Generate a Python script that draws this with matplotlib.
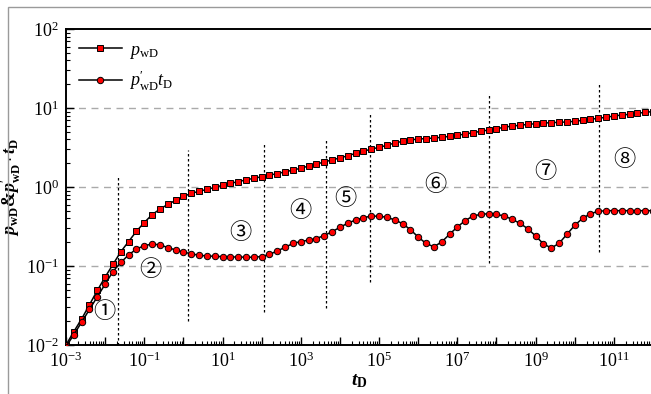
import numpy as np
import matplotlib
matplotlib.use("Agg")
import matplotlib.pyplot as plt
from matplotlib.ticker import LogLocator, FuncFormatter, NullFormatter
from matplotlib.patches import Rectangle

plt.rcParams['font.family'] = ['Liberation Serif', 'DejaVu Serif']
plt.rcParams['mathtext.fontset'] = 'custom'
plt.rcParams['mathtext.rm'] = 'Liberation Serif'
plt.rcParams['mathtext.it'] = 'Liberation Serif:italic'
plt.rcParams['mathtext.bf'] = 'Liberation Serif:bold'
plt.rcParams['mathtext.bfit'] = 'Liberation Serif:italic:bold'

# --- type curve data: sample times (log10 tD) and log10 of the responses ---
log_td = np.linspace(-3, 12, 76)

log_pwd = [-2.00, -1.83, -1.67, -1.49, -1.31, -1.14, -0.98, -0.82, -0.69, -0.56,
           -0.45, -0.35, -0.28, -0.22, -0.17, -0.12, -0.08, -0.055, -0.03, -0.005,
           0.022, 0.047, 0.067, 0.090, 0.110, 0.130, 0.150, 0.170, 0.192, 0.214,
           0.238, 0.265, 0.291, 0.316, 0.344, 0.367, 0.396, 0.425, 0.452, 0.480,
           0.502, 0.528, 0.557, 0.578, 0.595, 0.608, 0.612, 0.620, 0.629, 0.641,
           0.654, 0.671, 0.687, 0.705, 0.722, 0.738, 0.756, 0.772, 0.781, 0.793,
           0.801, 0.810, 0.814, 0.819, 0.823, 0.832, 0.844, 0.857, 0.870, 0.882,
           0.899, 0.911, 0.920, 0.933, 0.946, 0.955]

log_dpwd = [-2.02, -1.87, -1.71, -1.55, -1.39, -1.23, -1.07, -0.955, -0.86, -0.785,
            -0.743, -0.722, -0.733, -0.766, -0.797, -0.823, -0.846, -0.864, -0.873, -0.877,
            -0.882, -0.886, -0.886, -0.889, -0.889, -0.880, -0.852, -0.810, -0.762, -0.715,
            -0.690, -0.673, -0.652, -0.614, -0.566, -0.510, -0.458, -0.418, -0.388, -0.369,
            -0.369, -0.384, -0.416, -0.464, -0.540, -0.633, -0.715, -0.756, -0.696, -0.599,
            -0.506, -0.426, -0.367, -0.346, -0.338, -0.346, -0.367, -0.409, -0.460, -0.528,
            -0.620, -0.720, -0.772, -0.713, -0.599, -0.485, -0.397, -0.338, -0.308, -0.300,
            -0.300, -0.300, -0.300, -0.300, -0.300, -0.300]

td = 10 ** log_td
pwd = 10 ** np.array(log_pwd)
dpwd = 10 ** np.array(log_dpwd)

# flow regime boundaries (tD, bottom, top) and regime labels
bound_t = [10**-1.67, 10**0.12, 10**2.06, 10**3.64, 10**4.77, 10**7.81, 10**10.62]
bound_lo = [0.01, 0.02, 0.026, 0.029, 0.063, 0.11, 0.15]
bound_hi = [1.4, 2.9, 3.7, 3.9, 8.9, 15.0, 21.0]

regime_labels = ['①', '②', '③', '④', '⑤', '⑥', '⑦', '⑧']
regime_t = [10**-2.03, 10**-0.85, 10**1.45, 10**2.98, 10**4.13, 10**6.43, 10**9.24, 10**11.26]
regime_y = [10**-1.57, 10**-1.04, 10**-0.57, 10**-0.30, 10**-0.14, 10**0.03, 10**0.20, 10**0.35]

fig = plt.figure(figsize=(6.51, 3.94), dpi=100)
fig.patches.append(Rectangle((8 / 651, -0.1), 1.2, 1.1 - 7 / 394, transform=fig.transFigure,
                             fill=False, edgecolor='#9a9a9a', lw=1.0))
ax = fig.add_axes([66 / 651, 49 / 394, 587 / 651, 316 / 394])

ax.plot(td, pwd, '-', color='black', lw=1.1, marker='s', markersize=4.5,
        markerfacecolor='red', markeredgecolor='black', markeredgewidth=0.7,
        label=r'$p_{\rm wD}$', zorder=4)
ax.plot(td, dpwd, '-', color='black', lw=1.1, marker='o', markersize=4.6,
        markerfacecolor='red', markeredgecolor='black', markeredgewidth=0.7,
        label=r"$p^{\prime}_{\rm wD}t_{\rm D}$", zorder=4)

ax.vlines(bound_t, bound_lo, bound_hi, colors='black', linestyles=(0, (2, 2)), lw=0.9, zorder=3)

for lab, x, y in zip(regime_labels, regime_t, regime_y):
    ax.text(x, y, lab, ha='center', va='center', fontsize=16,
            family=['Noto Sans CJK SC', 'DejaVu Sans'])

ax.set_xscale('log')
ax.set_yscale('log')
ax.set_xlim(1e-3, 1e12)
ax.set_ylim(1e-2, 1e2)

ax.xaxis.set_major_locator(LogLocator(base=10, numticks=30))
ax.xaxis.set_minor_locator(LogLocator(base=10, subs=np.arange(2, 10), numticks=300))
ax.xaxis.set_minor_formatter(NullFormatter())


def odd_decades(x, pos):
    e = int(round(np.log10(x)))
    if e % 2 == 0:
        return ''
    return r'$\mathrm{10^{%d}}$' % e


def all_decades(y, pos):
    return r'$\mathrm{10^{%d}}$' % int(round(np.log10(y)))


ax.xaxis.set_major_formatter(FuncFormatter(odd_decades))
ax.yaxis.set_major_locator(LogLocator(base=10, numticks=10))
ax.yaxis.set_major_formatter(FuncFormatter(all_decades))
ax.yaxis.set_minor_locator(LogLocator(base=10, subs=np.arange(2, 10), numticks=100))
ax.yaxis.set_minor_formatter(NullFormatter())

ax.tick_params(which='both', direction='in', top=False, right=False, labelsize=13)
ax.tick_params(which='major', length=6, width=1.0, pad=5)
ax.tick_params(which='minor', length=3, width=0.8)

for y in [1e-1, 1e0, 1e1]:
    ax.axhline(y, color='#aaaaaa', lw=1.0, linestyle=(0, (5, 4)), zorder=1)

for s in ax.spines.values():
    s.set_linewidth(1.4)

ax.set_xlabel(r'$\mathbfit{t}_{\mathbf{D}}$', fontsize=14, labelpad=1)
ax.set_ylabel(r"$\mathbfit{p}_{\mathbf{wD}}$&$\mathbfit{p}^{\prime}_{\mathbf{wD}}\cdot\mathbfit{t}_{\mathbf{D}}$",
              fontsize=13, fontweight='bold', labelpad=2)

ax.legend(loc='upper left', frameon=False, fontsize=13, handlelength=2.4,
          borderaxespad=0.3, labelspacing=0.45, handletextpad=0.4)

fig.savefig('out.png', dpi=100)
